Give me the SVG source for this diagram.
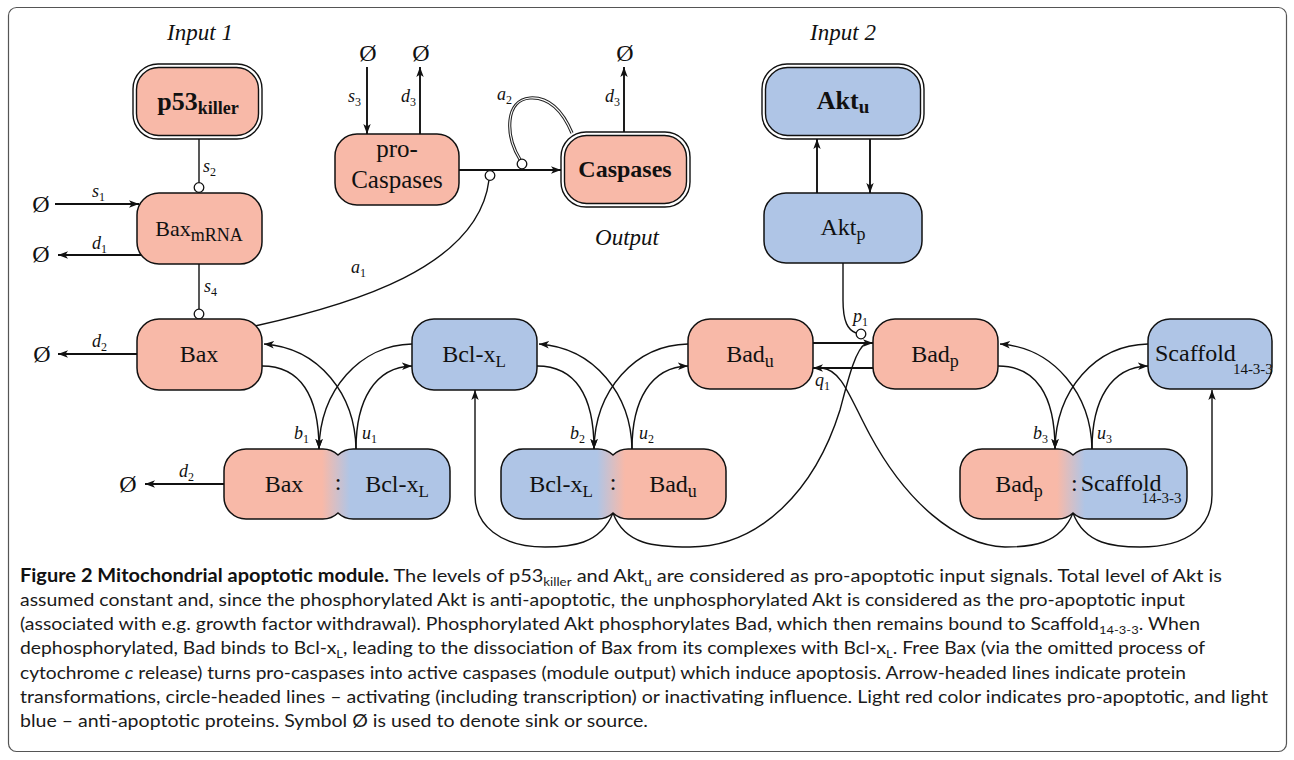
<svg xmlns="http://www.w3.org/2000/svg" width="1294" height="760" viewBox="0 0 1294 760">
<style>
.red{fill:#F8B9A8}
.blue{fill:#AFC5E6}
.node{stroke:#111;stroke-width:1.5}
.dbl{fill:#fff;stroke:#111;stroke-width:1.4}
.lbl{font-family:"Liberation Serif",serif;font-size:23px;fill:#111;text-anchor:middle}
.st{text-anchor:start}
.b{font-weight:bold}
.it{font-family:"Liberation Serif",serif;font-style:italic;font-size:18px;fill:#111}
.sn{font-style:normal;font-size:12px}
.io{font-family:"Liberation Serif",serif;font-style:italic;font-size:23px;fill:#111;text-anchor:middle}
.ln{fill:none;stroke:#111;stroke-width:1.4}
.th{stroke-width:1.9}
.circ{fill:#fff;stroke:#111;stroke-width:1.3}
.cap{font-family:Lato,"Liberation Sans",sans-serif;font-size:18px;fill:#1a1a1a}
.phi{font-family:"Liberation Serif",serif;font-size:24px;fill:#111;text-anchor:middle}
</style>
<defs>
<marker id="ah" markerWidth="11" markerHeight="9" refX="10" refY="4.5" orient="auto" markerUnits="userSpaceOnUse" viewBox="0 0 11 9">
<path d="M0,0.8 L10,4.5 L0,8.2 L2.6,4.5 Z" fill="#111"/>
</marker>
<linearGradient id="g1" gradientUnits="userSpaceOnUse" x1="322" y1="0" x2="350" y2="0"><stop offset="0" stop-color="#F8B9A8"/><stop offset="1" stop-color="#AFC5E6"/></linearGradient>
<linearGradient id="g2" gradientUnits="userSpaceOnUse" x1="597" y1="0" x2="625" y2="0"><stop offset="0" stop-color="#AFC5E6"/><stop offset="1" stop-color="#F8B9A8"/></linearGradient>
<linearGradient id="g3" gradientUnits="userSpaceOnUse" x1="1057" y1="0" x2="1085" y2="0"><stop offset="0" stop-color="#F8B9A8"/><stop offset="1" stop-color="#AFC5E6"/></linearGradient>
</defs>
<rect x="8.5" y="7.5" width="1278" height="744" rx="8" fill="#fff" stroke="#555" stroke-width="1.2"/>

<text class="io" x="200" y="40">Input 1</text>
<text class="io" x="843" y="40">Input 2</text>
<text class="io" x="627" y="245">Output</text>

<g id="connectors">
<text class="phi" x="41" y="212">Ø</text>
<text class="phi" x="41" y="262">Ø</text>
<text class="phi" x="42" y="362">Ø</text>
<text class="phi" x="128" y="492">Ø</text>
<text class="phi" x="368" y="61">Ø</text>
<text class="phi" x="421" y="61">Ø</text>
<text class="phi" x="625" y="61">Ø</text>
<path class="ln th" d="M55,204 H139" marker-end="url(#ah)"/>
<path class="ln th" d="M141,255 H58" marker-end="url(#ah)"/>
<path class="ln th" d="M137,354 H58" marker-end="url(#ah)"/>
<path class="ln th" d="M224,484 H145" marker-end="url(#ah)"/>
<path class="ln th" d="M367,67 V134" marker-end="url(#ah)"/>
<path class="ln th" d="M420,134 V67" marker-end="url(#ah)"/>
<path class="ln th" d="M624,132 V67" marker-end="url(#ah)"/>
<path class="ln th" d="M459,170 H561" marker-end="url(#ah)"/>
<path class="ln th" d="M817,193 V139" marker-end="url(#ah)"/>
<path class="ln th" d="M870,139 V193" marker-end="url(#ah)"/>
<path class="ln th" d="M813,343 H873" marker-end="url(#ah)"/>
<path class="ln th" d="M873,368 H813" marker-end="url(#ah)"/>
<path class="ln" d="M199,139 V182.5"/>
<circle class="circ" cx="199" cy="187.5" r="4.8"/>
<path class="ln" d="M199,264 V309"/>
<circle class="circ" cx="199" cy="314" r="4.8"/>
<path class="ln" d="M255,326 C350,305 478,268 489,180"/>
<circle class="circ" cx="490" cy="175.5" r="4.8"/>
<path d="M572,133 C560,105 545,97 530,98 C505,100 505,135 520,159.5" fill="none" stroke="#222" stroke-width="3.2"/>
<path d="M572,133 C560,105 545,97 530,98 C505,100 505,135 520,159.5" fill="none" stroke="#fff" stroke-width="1.1"/>
<circle class="circ" cx="522" cy="164" r="4.8"/>
<path class="ln" d="M843,263 V300 C843,322 848,330 856,333"/>
<circle class="circ" cx="861" cy="334" r="4.8"/>
<path class="ln" d="M262,366 C300,366 319,395 319,449" marker-end="url(#ah)"/>
<path class="ln" d="M412,344 C360,345 320,390 319,449" marker-end="url(#ah)"/>
<path class="ln" d="M356,449 C355,395 320,348 264,344" marker-end="url(#ah)"/>
<path class="ln" d="M356,449 C356,400 375,367 412,366" marker-end="url(#ah)"/>
<path class="ln" d="M537,366 C575,366 594,395 594,449" marker-end="url(#ah)"/>
<path class="ln" d="M688,344 C635,345 595,390 594,449" marker-end="url(#ah)"/>
<path class="ln" d="M632,449 C631,395 595,348 539,344" marker-end="url(#ah)"/>
<path class="ln" d="M632,449 C632,400 651,367 688,366" marker-end="url(#ah)"/>
<path class="ln" d="M998,366 C1036,366 1055,395 1055,449" marker-end="url(#ah)"/>
<path class="ln" d="M1148,344 C1095,345 1056,390 1055,449" marker-end="url(#ah)"/>
<path class="ln" d="M1092,449 C1091,395 1055,348 1000,344" marker-end="url(#ah)"/>
<path class="ln" d="M1092,449 C1092,400 1111,367 1148,366" marker-end="url(#ah)"/>
<path class="ln" d="M613,513 C600,545 570,547 545,547 C500,547 475,525 475,495 L475,390" marker-end="url(#ah)"/>
<path class="ln" d="M613,513 C625,545 655,547 690,547 C760,547 815,490 840,410 C848,380 855,350 866,343"/>
<path class="ln" d="M1073,513 C1060,545 1030,547 1005,547 C955,545 905,500 870,435 C850,398 842,370 822,368"/>
<path class="ln" d="M1073,513 C1085,545 1115,547 1140,547 C1190,547 1212,525 1212,495 L1212,390" marker-end="url(#ah)"/>
<text class="it" x="203" y="172">s<tspan class="sn" dy="4">2</tspan></text>
<text class="it" x="92" y="197">s<tspan class="sn" dy="4">1</tspan></text>
<text class="it" x="92" y="249">d<tspan class="sn" dy="4">1</tspan></text>
<text class="it" x="204" y="292">s<tspan class="sn" dy="4">4</tspan></text>
<text class="it" x="92" y="347">d<tspan class="sn" dy="4">2</tspan></text>
<text class="it" x="179" y="477">d<tspan class="sn" dy="4">2</tspan></text>
<text class="it" x="294" y="439">b<tspan class="sn" dy="4">1</tspan></text>
<text class="it" x="362" y="439">u<tspan class="sn" dy="4">1</tspan></text>
<text class="it" x="351" y="273">a<tspan class="sn" dy="4">1</tspan></text>
<text class="it" x="348" y="102">s<tspan class="sn" dy="4">3</tspan></text>
<text class="it" x="401" y="102">d<tspan class="sn" dy="4">3</tspan></text>
<text class="it" x="497" y="100">a<tspan class="sn" dy="4">2</tspan></text>
<text class="it" x="605" y="102">d<tspan class="sn" dy="4">3</tspan></text>
<text class="it" x="853" y="322">p<tspan class="sn" dy="4">1</tspan></text>
<text class="it" x="815" y="386">q<tspan class="sn" dy="4">1</tspan></text>
<text class="it" x="570" y="439">b<tspan class="sn" dy="4">2</tspan></text>
<text class="it" x="639" y="439">u<tspan class="sn" dy="4">2</tspan></text>
<text class="it" x="1033" y="439">b<tspan class="sn" dy="4">3</tspan></text>
<text class="it" x="1097" y="439">u<tspan class="sn" dy="4">3</tspan></text>
</g>

<g id="p53killer">
<rect class="dbl" x="133" y="64" width="129" height="75" rx="25"/>
<rect class="dbl" style="fill:#F8B9A8" x="136.5" y="67.5" width="122" height="68" rx="22"/>
<text class="lbl b" x="198" y="110" style="font-size:26px">p53<tspan style="font-size:18px" dy="4">killer</tspan></text>
</g>
<g id="BaxmRNA">
<rect class="red node" x="137" y="193" width="125" height="71" rx="22"/>
<text class="lbl" x="199" y="236" style="font-size:22px">Bax<tspan style="font-size:18px" dy="5">mRNA</tspan></text>
</g>
<g id="Bax">
<rect class="red node" x="137" y="319" width="125" height="71" rx="22"/>
<text class="lbl" x="199" y="362" style="font-size:24px">Bax</text>
</g>
<g id="BclxL">
<rect class="blue node" x="412" y="319" width="125" height="71" rx="22"/>
<text class="lbl" x="474" y="362" style="font-size:24px">Bcl-x<tspan style="font-size:17px" dy="5">L</tspan></text>
</g>
<g id="proCaspases">
<rect class="red node" x="335" y="134" width="124" height="71" rx="22"/>
<text class="lbl" x="397" y="157" style="font-size:25px">pro-</text>
<text class="lbl" x="397" y="188" style="font-size:25px">Caspases</text>
</g>
<g id="Caspases">
<rect class="dbl" x="561" y="132" width="129" height="75" rx="25"/>
<rect class="dbl" style="fill:#F8B9A8" x="564.5" y="135.5" width="122" height="68" rx="22"/>
<text class="lbl b" x="625" y="177" style="font-size:24px">Caspases</text>
</g>
<g id="Aktu">
<rect class="dbl" x="762" y="64" width="162" height="75" rx="25"/>
<rect class="dbl" style="fill:#AFC5E6" x="765.5" y="67.5" width="155" height="68" rx="22"/>
<text class="lbl b" x="843" y="109" style="font-size:26px">Akt<tspan style="font-size:19px" dy="4">u</tspan></text>
</g>
<g id="Aktp">
<rect class="blue node" x="764" y="193" width="158" height="70" rx="22"/>
<text class="lbl" x="843" y="235" style="font-size:24px">Akt<tspan style="font-size:18px" dy="5">p</tspan></text>
</g>
<g id="Badu">
<rect class="red node" x="688" y="319" width="125" height="70" rx="22"/>
<text class="lbl" x="750" y="362" style="font-size:24px">Bad<tspan style="font-size:18px" dy="5">u</tspan></text>
</g>
<g id="Badp">
<rect class="red node" x="873" y="319" width="125" height="70" rx="22"/>
<text class="lbl" x="935" y="362" style="font-size:24px">Bad<tspan style="font-size:18px" dy="5">p</tspan></text>
</g>
<g id="Scaffold">
<rect class="blue node" x="1148" y="319" width="124" height="70" rx="22"/>
<text class="lbl st" x="1155" y="361" style="font-size:24px">Scaffold<tspan style="font-size:15px" dx="-3" dy="13">14-3-3</tspan></text>
</g>
<g id="BaxBclxL">
<path class="node" fill="url(#g1)" d="M224,471 A22,22 0 0 1 246,449 H322.9 A22,22 0 0 1 338,455 A22,22 0 0 1 353.1,449 H428 A22,22 0 0 1 450,471 V497 A22,22 0 0 1 428,519 H353.1 A22,22 0 0 1 338,513 A22,22 0 0 1 322.9,519 H246 A22,22 0 0 1 224,497 Z"/>
<text class="lbl" x="284" y="492" style="font-size:24px">Bax</text>
<text class="lbl" x="338" y="490" style="font-size:24px">:</text>
<text class="lbl" x="397" y="492" style="font-size:24px">Bcl-x<tspan style="font-size:17px" dy="5">L</tspan></text>
</g>
<g id="BclxLBadu">
<path class="node" fill="url(#g2)" d="M501,471 A22,22 0 0 1 523,449 H597.9 A22,22 0 0 1 613,455 A22,22 0 0 1 628.1,449 H704 A22,22 0 0 1 726,471 V497 A22,22 0 0 1 704,519 H628.1 A22,22 0 0 1 613,513 A22,22 0 0 1 597.9,519 H523 A22,22 0 0 1 501,497 Z"/>
<text class="lbl" x="561" y="492" style="font-size:24px">Bcl-x<tspan style="font-size:17px" dy="5">L</tspan></text>
<text class="lbl" x="613" y="490" style="font-size:24px">:</text>
<text class="lbl" x="673" y="492" style="font-size:24px">Bad<tspan style="font-size:18px" dy="5">u</tspan></text>
</g>
<g id="BadpScaffold">
<path class="node" fill="url(#g3)" d="M960,471 A22,22 0 0 1 982,449 H1057.9 A22,22 0 0 1 1073,455 A22,22 0 0 1 1088.1,449 H1165 A22,22 0 0 1 1187,471 V497 A22,22 0 0 1 1165,519 H1088.1 A22,22 0 0 1 1073,513 A22,22 0 0 1 1057.9,519 H982 A22,22 0 0 1 960,497 Z"/>
<text class="lbl" x="1019" y="492" style="font-size:24px">Bad<tspan style="font-size:18px" dy="5">p</tspan></text>
<text class="lbl st" x="1071" y="491" style="font-size:24px">:<tspan dx="3">Scaffold</tspan><tspan style="font-size:15px" dx="-20" dy="12">14-3-3</tspan></text>
</g>

<g id="caption">
<text class="cap" x="20" y="582" textLength="1202" lengthAdjust="spacingAndGlyphs"><tspan font-weight="bold" fill="#111">Figure 2 Mitochondrial apoptotic module.</tspan> The levels of p53<tspan font-size="12" dy="4">killer</tspan><tspan dy="-4"> and Akt</tspan><tspan font-size="12" dy="4">u</tspan><tspan dy="-4"> are considered as pro-apoptotic input signals. Total level of Akt is</tspan></text>
<text class="cap" x="20" y="606" textLength="1165" lengthAdjust="spacingAndGlyphs">assumed constant and, since the phosphorylated Akt is anti-apoptotic, the unphosphorylated Akt is considered as the pro-apoptotic input</text>
<text class="cap" x="20" y="630" textLength="1180" lengthAdjust="spacingAndGlyphs">(associated with e.g. growth factor withdrawal). Phosphorylated Akt phosphorylates Bad, which then remains bound to Scaffold<tspan font-size="12" dy="4">14-3-3</tspan><tspan dy="-4">. When</tspan></text>
<text class="cap" x="20" y="654" textLength="1185" lengthAdjust="spacingAndGlyphs">dephosphorylated, Bad binds to Bcl-x<tspan font-size="12" dy="4">L</tspan><tspan dy="-4">, leading to the dissociation of Bax from its complexes with Bcl-x</tspan><tspan font-size="12" dy="4">L</tspan><tspan dy="-4">. Free Bax (via the omitted process of</tspan></text>
<text class="cap" x="20" y="679" textLength="1166" lengthAdjust="spacingAndGlyphs">cytochrome <tspan font-style="italic">c</tspan> release) turns pro-caspases into active caspases (module output) which induce apoptosis. Arrow-headed lines indicate protein</text>
<text class="cap" x="20" y="703" textLength="1248" lengthAdjust="spacingAndGlyphs">transformations, circle-headed lines – activating (including transcription) or inactivating influence. Light red color indicates pro-apoptotic, and light</text>
<text class="cap" x="20" y="727" textLength="628" lengthAdjust="spacingAndGlyphs">blue – anti-apoptotic proteins. Symbol Ø is used to denote sink or source.</text>
</g>
</svg>
